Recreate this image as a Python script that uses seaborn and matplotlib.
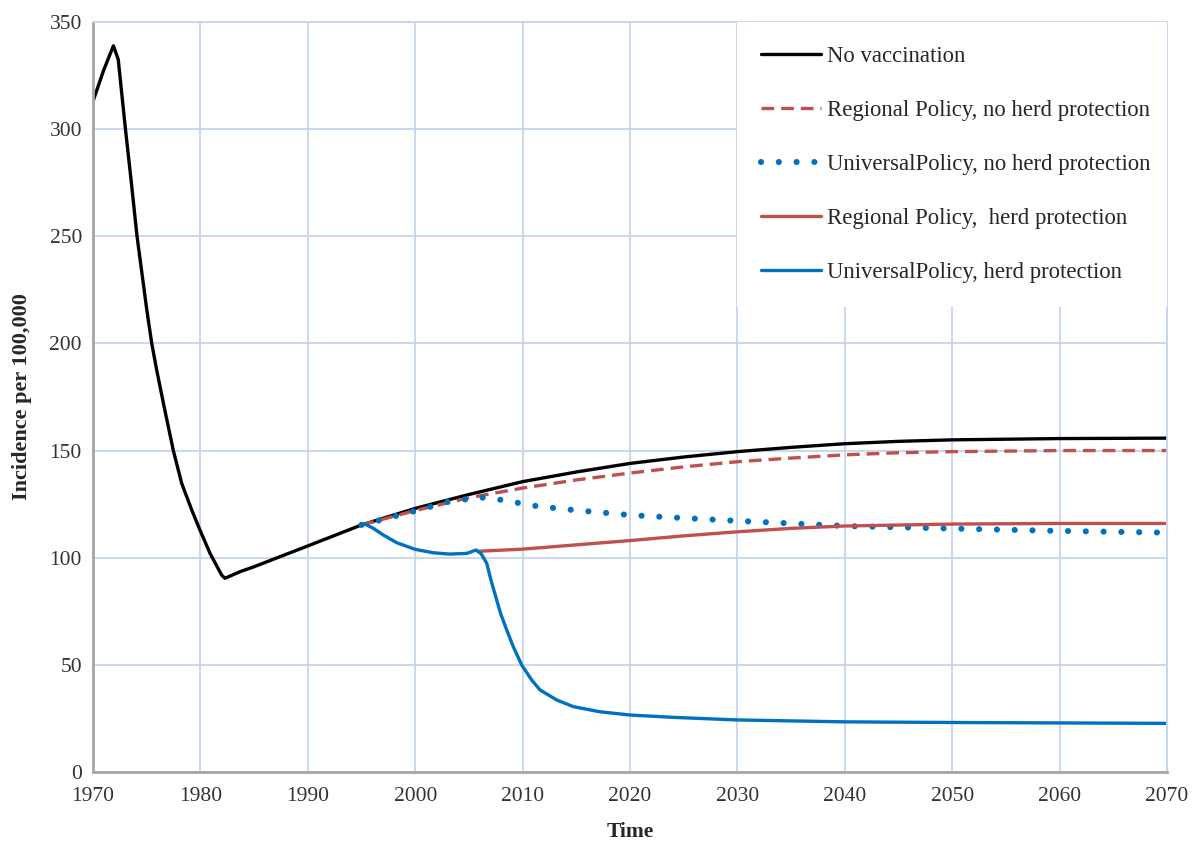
import numpy as np
import pandas as pd
import matplotlib
matplotlib.use("Agg")
import matplotlib.pyplot as plt
import seaborn as sns

# values
years_nv = [1970, 1971, 1971.9, 1972.35, 1973, 1973.55, 1974.1, 1975, 1975.47, 1975.93,
            1976.6, 1977.48, 1978.26, 1979.19, 1979.96, 1980.9, 1981.98, 1982.29, 1983.7,
            1985, 1990, 1995, 2000, 2005, 2010, 2015, 2020, 2025, 2030,
            2035, 2040, 2045, 2050, 2060, 2070]
no_vacc = [313, 327.6, 338.9, 332.5, 301, 276, 250, 216, 200, 187.6,
           171, 150, 134.7, 122.3, 112.9, 102, 91.9, 90.4, 93.5,
           95.8, 105.5, 115.3, 123, 129.5, 135.5, 140, 144, 147, 149.5,
           151.5, 153.2, 154.3, 155, 155.6, 155.8]

years_reg_nh = [1995, 2000, 2005, 2010, 2015, 2020, 2025, 2030, 2035, 2040, 2045, 2050, 2060, 2070]
regional_no_herd = [115.3, 122, 128, 132.5, 136.3, 139.5, 142.4, 144.8, 146.5, 148, 149, 149.5, 150, 150]

years_uni_nh = [1995, 2000, 2003, 2006, 2008, 2011, 2014, 2020, 2025, 2030, 2040, 2050, 2060, 2070]
universal_no_herd = [115.3, 121.8, 126, 128.2, 127, 124.3, 122.6, 119.9, 118.5, 117.2, 114.8, 113.6, 112.5, 111.7]

years_reg_h = [2005.9, 2010, 2015, 2020, 2025, 2030, 2035, 2040, 2050, 2060, 2070]
regional_herd = [103, 104, 106, 108, 110.2, 112.1, 113.7, 114.8, 115.7, 116, 116]

years_uni_h = [1995, 1995.33, 1996.1, 1997.03, 1998.28, 2000, 2001.7, 2003.2, 2004.8, 2005.66,
               2006.15, 2006.66, 2007.05, 2007.5, 2007.95, 2008.52, 2009.13, 2009.92, 2010.85,
               2011.62, 2013.18, 2014.72, 2017.2, 2020, 2024.03, 2029.93, 2040, 2050, 2060, 2070]
universal_herd = [115.3, 115.7, 113.7, 110.6, 107, 103.9, 102.3, 101.7, 102, 103.6,
                  101.8, 97.4, 89.6, 81.8, 74, 66.3, 58.5, 49.9, 42.9,
                  38.3, 33.6, 30.5, 28.1, 26.6, 25.5, 24.3, 23.4, 23.1, 22.9, 22.7]

x_ticks = list(range(1970, 2071, 10))
y_ticks = list(range(0, 351, 50))

RED = "#c0504d"
BLUE = "#0070c0"
GRID = "#c6d5ee"
SPINE = "#a6a6a6"

sns.set_style("white")
plt.rcParams["font.family"] = ["Liberation Serif", "DejaVu Serif"]

fig = plt.figure(figsize=(11.96, 8.42), dpi=100)
ax = fig.add_axes([93 / 1196, 1 - 772 / 842, (1167 - 93) / 1196, (772 - 22) / 842])

sns.lineplot(x=years_nv, y=no_vacc, ax=ax, color="black", lw=2.4, label="No vaccination")
sns.lineplot(x=years_reg_nh, y=regional_no_herd, ax=ax, color=RED, lw=2.4,
             label="Regional Policy, no herd protection")
sns.lineplot(x=years_uni_nh, y=universal_no_herd, ax=ax, color=BLUE, lw=4.4,
             label="UniversalPolicy, no herd protection")
sns.lineplot(x=years_reg_h, y=regional_herd, ax=ax, color=RED, lw=2.4,
             label="Regional Policy,  herd protection")
sns.lineplot(x=years_uni_h, y=universal_herd, ax=ax, color=BLUE, lw=2.4,
             label="UniversalPolicy, herd protection")

lines = ax.get_lines()
lines[1].set_linestyle((0, (3.8, 2.1)))
lines[2].set_linestyle((0, (0.01, 2.9)))
lines[2].set_dash_capstyle("round")
for ln in lines:
    ln.set_solid_joinstyle("round")

ax.set_xlim(1970, 2070)
ax.set_ylim(0, 350)
ax.set_xticks(x_ticks)
ax.set_yticks(y_ticks)
ax.grid(True, color=GRID, lw=1.3)
ax.set_axisbelow(True)

for side in ["top", "right"]:
    ax.spines[side].set_color(GRID)
    ax.spines[side].set_linewidth(1.3)
for side in ["left", "bottom"]:
    ax.spines[side].set_color(SPINE)
    ax.spines[side].set_linewidth(2)

ax.tick_params(axis="x", direction="in", length=6, width=1.2, color=SPINE,
               labelsize=15.5, labelcolor="#333333", pad=10.5)
ax.tick_params(axis="y", direction="out", length=5, width=1.2, color=SPINE,
               labelsize=15.5, labelcolor="#333333", pad=3)

ax.set_xlabel("Time", fontsize=15.5, fontweight="bold")
ax.set_ylabel("Incidence per 100,000", fontsize=16, fontweight="bold")
ax.xaxis.label.set_va("center")
ax.yaxis.label.set_va("center")
ax.xaxis.set_label_coords(0.5, -(832 - 772) / 750)
ax.yaxis.set_label_coords(-(93 - 22.5) / 1074, 0.5)

leg = ax.legend(loc="upper left", bbox_to_anchor=(0.5996, 0.632, 0.4004, 0.368),
                mode="expand", fontsize=16.4, frameon=True, fancybox=False,
                framealpha=1, edgecolor="none", facecolor="white",
                handlelength=2.63, handletextpad=0.26, labelspacing=1.45,
                borderpad=1.05, borderaxespad=0)

fig.savefig("out.png", dpi=100)
